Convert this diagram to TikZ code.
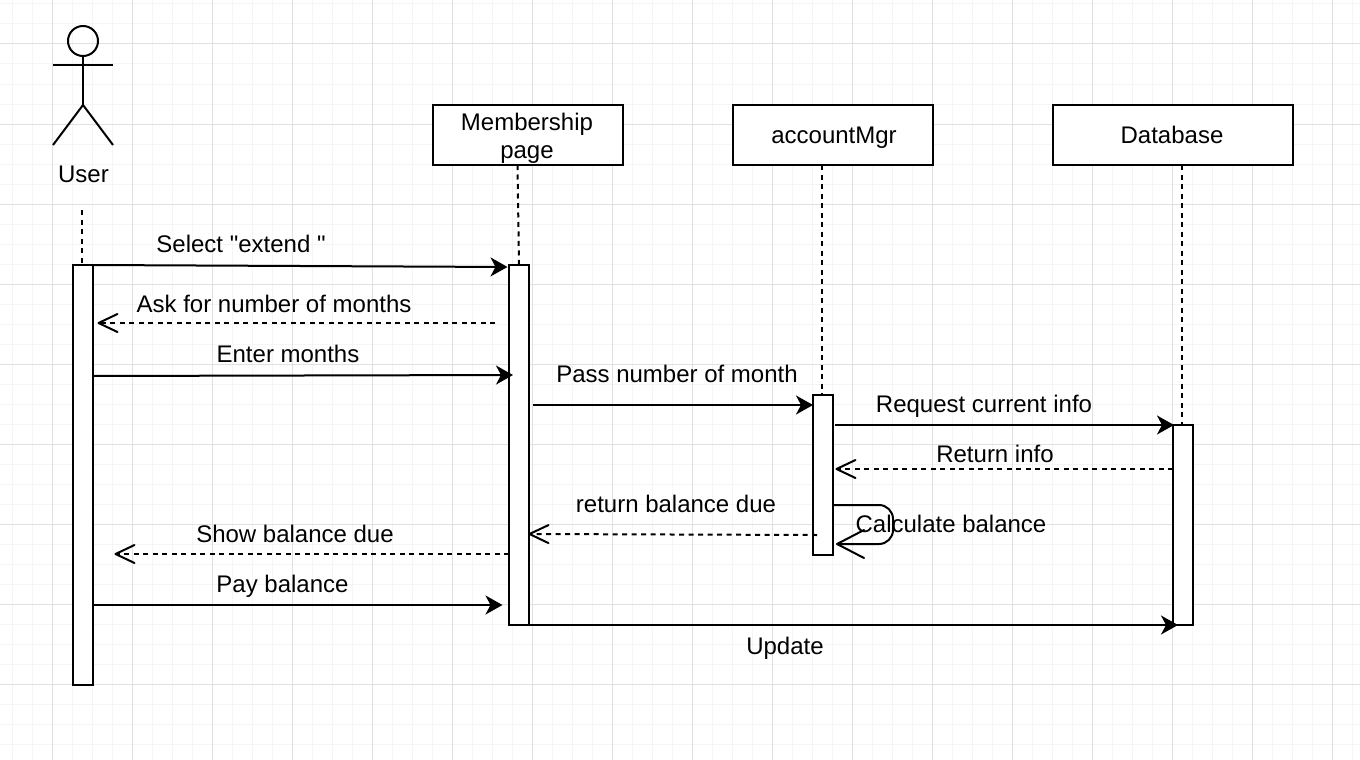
\documentclass[tikz,border=0pt]{standalone}
\usepackage{fontspec}
\newfontfamily\labelfont{Liberation Sans}
\usetikzlibrary{arrows.meta,calc}
\definecolor{gridmajor}{HTML}{E0E0E0}
\definecolor{gridminor}{HTML}{F5F5F5}
\tikzset{
  every node/.style={font=\labelfont\fontsize{24}{28}\selectfont,text=black,inner sep=0pt,outer sep=0pt},
  dia/.style={line width=2pt,draw=black},
  objbox/.style={dia,fill=white,minimum height=60pt},
  bar/.style={dia,fill=white,minimum width=20pt},
  label/.style={anchor=base},
  lifeline/.style={line width=2pt,dash pattern=on 5pt off 4.5pt},
  solidmsg/.style={line width=2pt,-{Stealth[length=17pt,width=19pt,inset=5pt]}},
  replymsg/.style={line width=2pt,dash pattern=on 5pt off 4.5pt,-{Straight Barb[length=19pt,width=18pt,line width=2pt,round=false]}},
}
\begin{document}
\begin{tikzpicture}[x=1pt,y=-1pt]
\useasboundingbox (0,0) rectangle (1360,760);
\fill[white] (0,0) rectangle (1360,760);
% grid
\foreach \gx in {12.5,32.5,...,1352.5} \draw[gridminor,line width=1pt] (\gx,0) -- (\gx,760);
\foreach \gy in {4,24,...,744} \draw[gridminor,line width=1pt] (0,\gy) -- (1360,\gy);
\foreach \gx in {52.5,132.5,...,1332.5} \draw[gridmajor,line width=1pt] (\gx,0) -- (\gx,760);
\foreach \gy in {44,124,...,684} \draw[gridmajor,line width=1pt] (0,\gy) -- (1360,\gy);

% actor
\node[dia,circle,minimum size=30pt,fill=none] (head) at (83,41) {};
\coordinate (hip) at (83,105);
\coordinate (armL) at (53,65);
\coordinate (armR) at (113,65);
\coordinate (footL) at (53,145);
\coordinate (footR) at (113,145);
\draw[dia] (head.south) -- (hip);
\draw[dia] (armL) -- (armR);
\draw[dia] (footL) -- (hip) -- (footR);
\node[label] (userlabel) at (83.5,182) {User};

% objects
\node[objbox,minimum width=190pt] (member) at (528,135) {};
\node[align=center] (membertext) at (527,138) {Membership\\page};
\node[objbox,minimum width=200pt] (acct) at (833,135) {};
\node[label] (acctlabel) at (834,143) {accountMgr};
\node[objbox,minimum width=240pt] (db) at (1173,135) {};
\node[label] (dblabel) at (1172,143) {Database};

% lifelines
\coordinate (userlife) at (82,210);
\draw[lifeline] (userlife) -- (82,265);
\draw[lifeline] (517.5,165) -- (519,265);
\draw[lifeline] (822,165) -- (822,395);
\draw[lifeline] (1181.5,165) -- (1181.5,425);

% activation bars
\node[bar,minimum height=420pt] (ubar) at (83,475) {};
\node[bar,minimum height=360pt] (mbar) at (519,445) {};
\node[bar,minimum height=160pt] (abar) at (823,475) {};
\node[bar,minimum height=200pt] (dbar) at (1183,525) {};

% messages
\coordinate (m1a) at (93,265); \coordinate (m1b) at (507.5,267);
\draw[solidmsg] (m1a) -- (m1b);
\node[label] (t1) at (241,252) {Select "extend "};

\coordinate (m2a) at (495,323); \coordinate (m2b) at (97.5,323);
\draw[replymsg] (m2a) -- (m2b);
\node[label] (t2) at (274,312) {Ask for number of months};

\coordinate (m3a) at (93,376); \coordinate (m3b) at (513,375);
\draw[solidmsg] (m3a) -- (m3b);
\node[label] (t3) at (288,362) {Enter months};

\coordinate (m4a) at (533,405); \coordinate (m4b) at (813,405);
\draw[solidmsg] (m4a) -- (m4b);
\node[label] (t4) at (677,382) {Pass number of month};

\coordinate (m5a) at (835,425); \coordinate (m5b) at (1174,425);
\draw[solidmsg] (m5a) -- (m5b);
\node[label] (t5) at (984,412) {Request current info};

\coordinate (m6a) at (1173,469); \coordinate (m6b) at (835.5,469);
\draw[replymsg] (m6a) -- (m6b);
\node[label] (t6) at (995,462) {Return info};

\coordinate (m7a) at (833,505); \coordinate (m7r) at (893,505); \coordinate (m7s) at (893,544); \coordinate (m7b) at (836,544);
\draw[line width=2pt,rounded corners=14pt,-{Straight Barb[length=27pt,width=28pt,line width=2pt,round=false]}] (m7a) -- (m7r) -- (m7s) -- (m7b);
\node[label] (t7) at (951,532) {Calculate balance};

\coordinate (m8a) at (817,535); \coordinate (m8b) at (528.5,534);
\draw[replymsg] (m8a) -- (m8b);
\node[label] (t8) at (676,512) {return balance due};

\coordinate (m9a) at (509,554); \coordinate (m9b) at (114.5,554);
\draw[replymsg] (m9a) -- (m9b);
\node[label] (t9) at (295,542) {Show balance due};

\coordinate (m10a) at (93,605); \coordinate (m10b) at (502.5,605);
\draw[solidmsg] (m10a) -- (m10b);
\node[label] (t10) at (282.5,592) {Pay balance};

\coordinate (m11a) at (529,625); \coordinate (m11b) at (1178,625);
\draw[solidmsg] (m11a) -- (m11b);
\node[label] (t11) at (785,654) {Update};
\end{tikzpicture}
\end{document}
